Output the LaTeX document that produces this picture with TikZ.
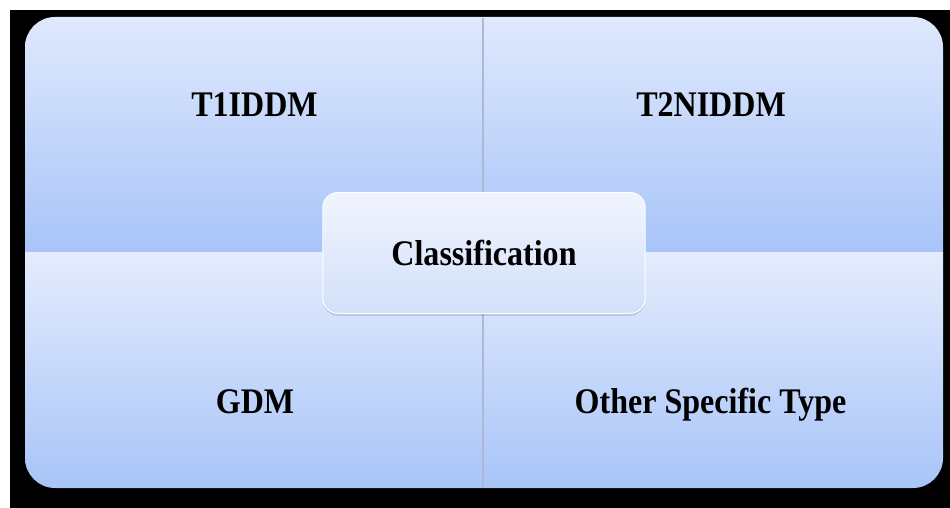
\documentclass[tikz,border=0pt]{standalone}
\usepackage{fontspec}
\setmainfont{Liberation Serif}
\usetikzlibrary{shadows}
\definecolor{paneltop}{RGB}{223,233,253}
\definecolor{panelbot}{RGB}{168,196,248}
\definecolor{lowtop}{RGB}{228,236,253}
\definecolor{boxtop}{RGB}{240,244,254}
\definecolor{boxbot}{RGB}{211,224,250}
\definecolor{gapline}{RGB}{172,184,214}
\tikzset{
  lbl/.style={font=\bfseries\fontsize{36}{40}\selectfont,xscale=0.89,inner sep=0pt},
  centrebox/.style={lbl,rounded corners=15pt,minimum width=362pt,minimum height=121pt,
    top color=boxtop,bottom color=boxbot,draw=white,line width=1pt,
    drop shadow={shadow xshift=0pt,shadow yshift=-2pt,opacity=0.35}}
}
\begin{document}
\begin{tikzpicture}[x=1pt,y=-1pt]
    \useasboundingbox (0,0) rectangle (950,508);
    \fill[white] (0,0) rectangle (950,508);
    \fill[black] (10,10) rectangle (950,508);
    % four panels
    \begin{scope}
    \clip[rounded corners=30pt] (25,17) rectangle (943,488);
    \shade[top color=paneltop,bottom color=panelbot] (25,17) rectangle (943,252);
    \shade[top color=lowtop,bottom color=panelbot] (25,252) rectangle (943,488);
    \end{scope}
    \coordinate (gtop) at (483,18);
    \coordinate (gbot) at (483,488);
    \draw[gapline,line width=1.5pt] (gtop)--(gbot);
    % labels
    \node[centrebox] (class) at (484,253) {Classification};
    \node[lbl,anchor=base] (t1) at (254.5,117) {T1IDDM};
    \node[lbl,anchor=base] (t2) at (711,117) {T2NIDDM};
    \node[lbl,anchor=base] (gdm) at (255,413) {GDM};
    \node[lbl,anchor=base] (other) at (710.5,413) {Other Specific Type};
\end{tikzpicture}
\end{document}
